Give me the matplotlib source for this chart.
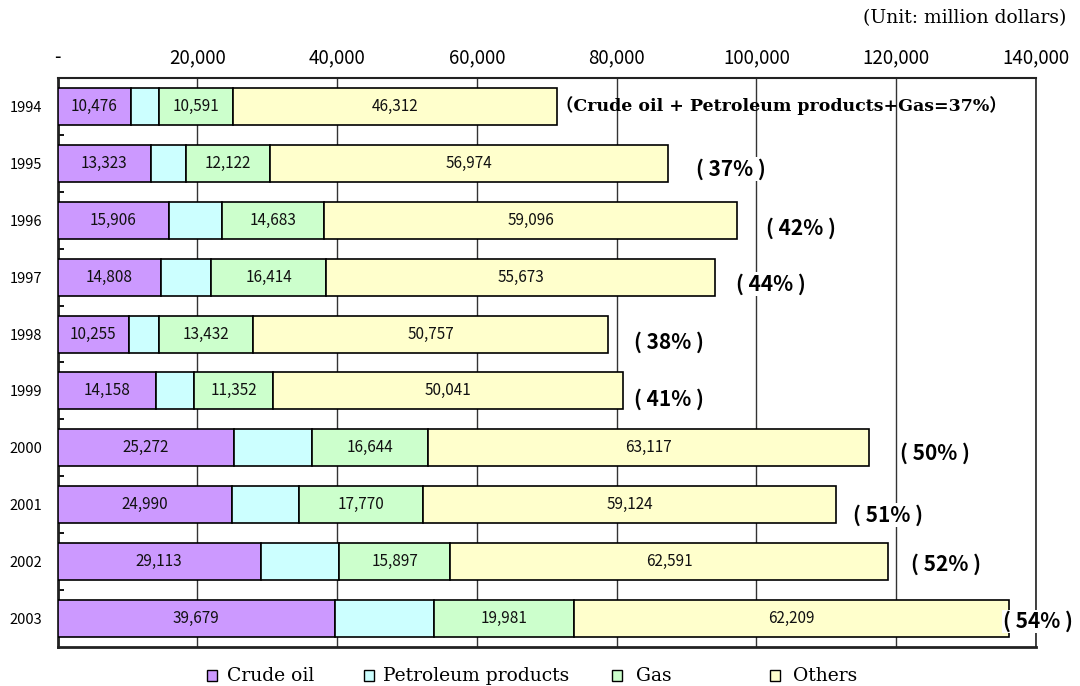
import matplotlib
matplotlib.use("Agg")
import matplotlib.pyplot as plt
from matplotlib.patches import Rectangle
from matplotlib.ticker import FixedLocator, FuncFormatter

# ---- data (million dollars) ----
years = ["1994", "1995", "1996", "1997", "1998", "1999", "2000", "2001", "2002", "2003"]
crude_oil = [10476, 13323, 15906, 14808, 10255, 14158, 25272, 24990, 29113, 39679]
petroleum_products = [4100, 5000, 7600, 7200, 4300, 5350, 11100, 9550, 11200, 14200]
gas = [10591, 12122, 14683, 16414, 13432, 11352, 16644, 17770, 15897, 19981]
others = [46312, 56974, 59096, 55673, 50757, 50041, 63117, 59124, 62591, 62209]
energy_share = [37, 37, 42, 44, 38, 41, 50, 51, 52, 54]

series_names = ["Crude oil", "Petroleum products", "Gas", "Others"]
series_colors = ["#CC99FF", "#CCFFFF", "#CCFFCC", "#FFFFCC"]
labelled = [True, False, True, True]

# placement of the share notes (x in data units, y offset in rows)
share_x = [103600, 96350, 106300, 102100, 87550, 87550, 125600, 118800, 127100, 140300]
share_dy = [-0.02, 0.10, 0.14, 0.12, 0.14, 0.14, 0.09, 0.18, 0.05, 0.05]

GOTHIC = ["Noto Sans CJK JP", "DejaVu Sans"]
SERIF = ["DejaVu Serif", "Noto Sans CJK JP"]

W, H = 1080, 686
fig = plt.figure(figsize=(W / 100, H / 100), dpi=100)
ax = fig.add_axes([57.5 / W, (H - 647) / H, (1036 - 57.5) / W, (647 - 78) / H])

pos = list(range(len(years)))
series = [crude_oil, petroleum_products, gas, others]
left = [0] * len(years)
for vals, name, col, lab in zip(series, series_names, series_colors, labelled):
    bars = ax.barh(pos, vals, left=left, height=0.65, color=col,
                   edgecolor="black", linewidth=1.2, label=name, zorder=3)
    if lab:
        ax.bar_label(bars, labels=[f"{v:,}" for v in vals], label_type="center",
                     fontsize=11, family=GOTHIC, color="#111111", zorder=4)
    left = [a + b for a, b in zip(left, vals)]

# share of energy in total
for i, s in enumerate(energy_share):
    if i == 0:
        ax.text(share_x[i], i + share_dy[i], f"（Crude oil + Petroleum products+Gas={s}%）",
                ha="center", va="center", fontsize=12.5, fontweight="bold",
                family=SERIF, zorder=6, clip_on=False)
    else:
        ax.text(share_x[i], i + share_dy[i], f"( {s}% )", ha="center", va="center",
                fontsize=15, fontweight="bold", family=GOTHIC, zorder=6, clip_on=False,
                bbox=dict(boxstyle="square,pad=0.05", fc="white", ec="none"))

ax.set_xlim(0, 140000)
ax.set_ylim(len(years) - 0.5, -0.5)

# x axis on top
ax.xaxis.tick_top()
ax.set_xticks(range(0, 140001, 20000))
ax.xaxis.set_major_formatter(FuncFormatter(lambda v, p: "-" if v == 0 else f"{int(v):,}"))
ax.tick_params(axis="x", which="both", top=True, bottom=True, direction="in",
               length=0, pad=7, labelsize=13.5)
for t in ax.get_xticklabels():
    t.set_family(GOTHIC)
ax.grid(axis="x", color="#333333", linewidth=1.0, zorder=1)

# y axis: years with short inward ticks between rows
ax.set_yticks(pos)
ax.set_yticklabels(years, family=GOTHIC, fontsize=10.5)
ax.yaxis.set_minor_locator(FixedLocator([p + 0.5 for p in pos[:-1]] + [-0.5]))
ax.tick_params(axis="y", which="major", length=0, pad=11)
ax.tick_params(axis="y", which="minor", direction="in", length=4, width=1.3, color="black")

for side, lw in [("left", 2.0), ("bottom", 2.0), ("top", 1.5), ("right", 1.2)]:
    ax.spines[side].set_linewidth(lw)
    ax.spines[side].set_color("#222222")

# unit note
fig.text(1066 / W, 1 - 18 / H, "(Unit: million dollars)", ha="right", va="center",
         fontsize=13.5, family=SERIF)

# legend row
marker_x = [207, 364, 612, 770]
text_x = [227, 383, 636, 793]
for mx, tx, name, col in zip(marker_x, text_x, series_names, series_colors):
    fig.add_artist(Rectangle((mx / W, 1 - 681 / H), 10 / W, 11 / H,
                             transform=fig.transFigure, facecolor=col,
                             edgecolor="black", linewidth=1.0))
    fig.text(tx / W, 1 - 676 / H, name, ha="left", va="center", fontsize=13.5,
             family=SERIF)

fig.savefig("out.png", dpi=100)
